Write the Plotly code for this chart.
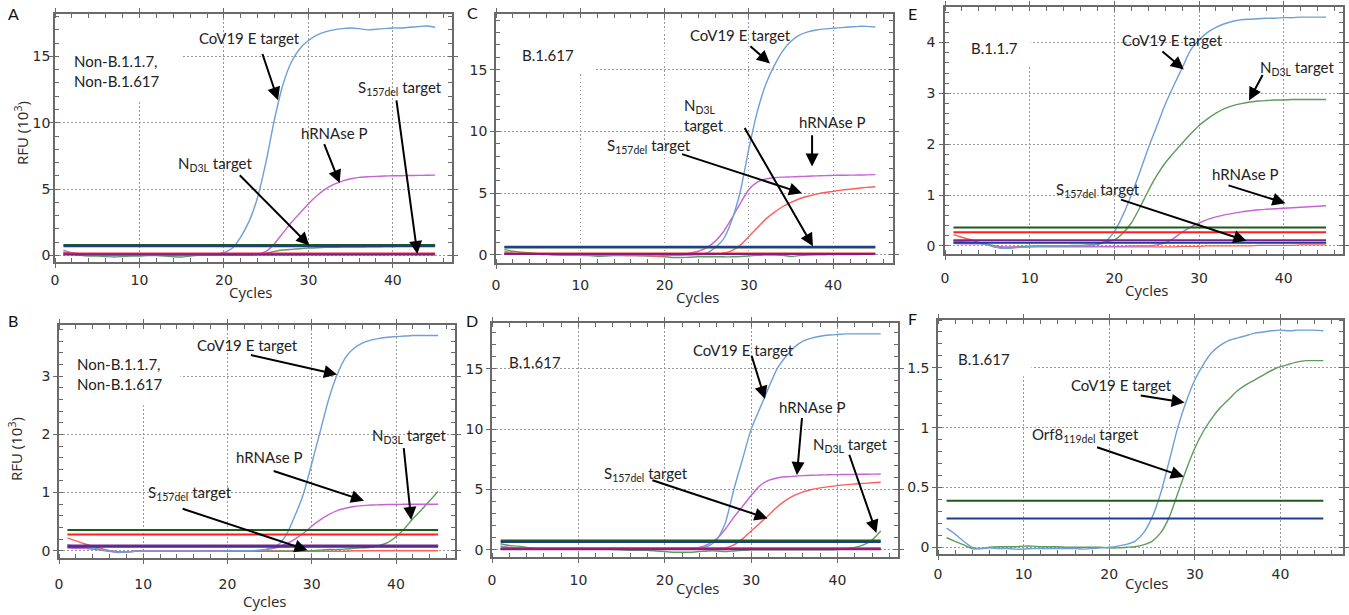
import plotly.graph_objects as go

W, H = 1349, 615
cycles = list(range(1, 46))

# ---------------- Panel A (Non-B.1.1.7, Non-B.1.617) ----------------
A_cov = [0.4, 0.2, 0.1, 0.05, 0.02, 0.0, -0.02, 0.0, 0.02, 0.02,
         0.0, 0.0, 0.02, 0.03, 0.02, 0.03, 0.05, 0.05, 0.08, 0.2,
         0.55, 1.4, 2.6, 4.4, 7.1, 10.3, 12.9, 14.6, 15.6, 16.2,
         16.6, 16.85, 17.0, 17.1, 17.15, 17.1, 17.0, 17.05, 17.1, 17.15,
         17.15, 17.2, 17.25, 17.3, 17.2]
A_hrp = [0.1, 0.06, 0.05, 0.04, 0.03, 0.02, 0.02, 0.03, 0.03, 0.03,
         0.03, 0.03, 0.03, 0.03, 0.03, 0.03, 0.03, 0.04, 0.04, 0.04,
         0.04, 0.05, 0.05, 0.08, 0.3, 0.9, 1.7, 2.5, 3.2, 3.9,
         4.5, 5.0, 5.35, 5.6, 5.78, 5.88, 5.93, 5.96, 5.98, 6.0,
         6.0, 6.02, 6.03, 6.04, 6.05]
A_nd3l = [0.2, 0.1, 0.0, -0.05, -0.05, -0.08, -0.12, -0.08, -0.05, -0.05,
          -0.02, -0.02, -0.05, -0.1, -0.12, -0.05, 0.0, 0.0, 0.02, 0.02,
          0.03, 0.03, 0.05, 0.08, 0.15, 0.3, 0.4, 0.45, 0.5, 0.55,
          0.58, 0.6, 0.6, 0.62, 0.62, 0.63, 0.64, 0.65, 0.66, 0.67,
          0.68, 0.69, 0.7, 0.7, 0.7]
A_s157 = [0.25, 0.18, 0.12, 0.08, 0.06, 0.05, 0.05, 0.05, 0.05, 0.05,
          0.05, 0.05, 0.05, 0.05, 0.05, 0.05, 0.05, 0.05, 0.05, 0.05,
          0.05, 0.05, 0.05, 0.05, 0.05, 0.05, 0.05, 0.05, 0.05, 0.06,
          0.06, 0.06, 0.06, 0.06, 0.07, 0.07, 0.07, 0.07, 0.07, 0.08,
          0.08, 0.08, 0.08, 0.08, 0.08]
A_thr = [0.78, 0.68, 0.15, 0.06]   # N, E, S, hRNAse P thresholds

# ---------------- Panel C (B.1.617) ----------------
C_cov = [0.3, 0.15, 0.08, 0.05, 0.05, 0.05, 0.05, 0.05, 0.05, 0.05,
         0.05, 0.04, 0.04, 0.04, 0.04, 0.04, 0.04, 0.04, 0.04, 0.04,
         0.04, 0.04, 0.05, 0.07, 0.15, 0.6, 1.3, 2.85, 5.2, 8.6,
         11.6, 13.8, 15.3, 16.5, 17.3, 17.8, 18.05, 18.2, 18.3, 18.35,
         18.4, 18.45, 18.5, 18.5, 18.45]
C_hrp = [0.15, 0.1, 0.08, 0.06, 0.05, 0.05, 0.05, 0.05, 0.05, 0.05,
         0.04, 0.04, 0.04, 0.04, 0.04, 0.04, 0.04, 0.04, 0.04, 0.04,
         0.05, 0.06, 0.15, 0.3, 0.6, 1.1, 1.9, 3.0, 4.2, 5.3,
         5.9, 6.15, 6.25, 6.3, 6.32, 6.35, 6.37, 6.4, 6.42, 6.44,
         6.45, 6.46, 6.47, 6.48, 6.5]
C_s157 = [0.15, 0.1, 0.08, 0.05, 0.05, 0.03, 0.0, -0.02, -0.02, -0.02,
          -0.03, -0.03, -0.03, -0.03, -0.03, -0.05, -0.05, -0.05, -0.08, -0.05,
          -0.03, -0.02, 0.0, 0.02, 0.03, 0.05, 0.15, 0.35, 0.8, 1.5,
          2.2, 2.9, 3.45, 3.9, 4.25, 4.55, 4.75, 4.92, 5.05, 5.15,
          5.25, 5.32, 5.4, 5.47, 5.52]
C_nd3l = [0.45, 0.3, 0.22, 0.18, 0.1, 0.05, 0.02, 0.0, -0.02, -0.03,
          -0.05, -0.1, -0.08, -0.05, -0.05, -0.05, -0.06, -0.08, -0.1, -0.15,
          -0.2, -0.2, -0.18, -0.15, -0.15, -0.15, -0.15, -0.15, -0.12, -0.08,
          -0.03, 0.0, 0.0, -0.02, -0.12, -0.05, 0.0, 0.02, 0.02, 0.03,
          0.03, 0.04, 0.04, 0.05, 0.05]
C_thr = [0.6, 0.66, 0.12, 0.08]

# ---------------- Panel E (B.1.1.7) ----------------
E_cov = [0.08, 0.07, 0.06, 0.05, 0.02, -0.03, -0.05, -0.04, -0.03, -0.02,
         -0.01, 0.0, 0.0, 0.0, 0.0, 0.0, 0.01, 0.04, 0.1, 0.28,
         0.6, 1.0, 1.45, 1.92, 2.35, 2.78, 3.15, 3.5, 3.85, 4.05,
         4.2, 4.3, 4.37, 4.42, 4.45, 4.46, 4.47, 4.48, 4.48, 4.49,
         4.49, 4.5, 4.5, 4.5, 4.5]
E_nd3l = [0.1, 0.08, 0.07, 0.06, 0.03, -0.02, -0.05, -0.04, -0.02, -0.01,
          0.0, 0.0, 0.0, 0.0, 0.01, 0.01, 0.02, 0.03, 0.08, 0.12,
          0.25, 0.45, 0.75, 1.08, 1.38, 1.63, 1.83, 2.02, 2.2, 2.37,
          2.5, 2.61, 2.7, 2.76, 2.8, 2.83, 2.85, 2.86, 2.87, 2.87,
          2.88, 2.88, 2.88, 2.88, 2.88]
E_hrp = [0.05, 0.04, 0.04, 0.04, 0.03, 0.0, -0.02, -0.02, -0.01, -0.01,
         -0.01, -0.01, -0.01, -0.01, -0.01, -0.01, -0.01, -0.01, -0.01, -0.01,
         -0.01, 0.0, 0.0, 0.0, 0.02, 0.06, 0.15, 0.27, 0.37, 0.45,
         0.52, 0.57, 0.61, 0.64, 0.67, 0.69, 0.71, 0.72, 0.73, 0.74,
         0.75, 0.76, 0.77, 0.78, 0.79]
E_s157 = [0.22, 0.17, 0.12, 0.07, 0.03, -0.02, -0.04, -0.03, -0.02, -0.02,
          -0.02, -0.02, -0.02, -0.02, -0.02, -0.02, -0.02, -0.02, -0.02, -0.02,
          -0.02, -0.02, -0.02, -0.02, -0.02, -0.02, -0.02, -0.01, -0.01, -0.01,
          0.0, 0.0, 0.0, 0.0, 0.0, 0.0, 0.01, 0.01, 0.01, 0.01,
          0.01, 0.02, 0.02, 0.02, 0.02]
E_thr = [0.36, 0.06, 0.27, 0.11]

# ---------------- Panel B (Non-B.1.1.7, Non-B.1.617) ----------------
B_cov = [0.1, 0.08, 0.06, 0.04, 0.02, -0.01, -0.03, -0.02, -0.01, -0.01,
         -0.01, -0.01, -0.01, -0.01, -0.01, -0.01, -0.01, -0.01, -0.01, 0.0,
         0.0, 0.0, 0.0, 0.01, 0.04, 0.1, 0.28, 0.6, 0.97, 1.5,
         2.05, 2.6, 3.02, 3.32, 3.48, 3.57, 3.62, 3.65, 3.67, 3.68,
         3.69, 3.7, 3.7, 3.7, 3.7]
B_hrp = [0.05, 0.04, 0.04, 0.04, 0.02, 0.0, -0.02, -0.02, -0.01, -0.01,
         -0.01, -0.01, -0.01, -0.01, -0.01, -0.01, -0.01, 0.0, 0.0, 0.0,
         0.0, 0.0, 0.0, 0.01, 0.03, 0.06, 0.12, 0.2, 0.3, 0.42,
         0.53, 0.62, 0.69, 0.73, 0.76, 0.775, 0.785, 0.79, 0.795, 0.795,
         0.8, 0.8, 0.8, 0.8, 0.8]
B_nd3l = [0.06, 0.05, 0.04, 0.03, 0.01, -0.01, -0.02, -0.02, -0.01, -0.01,
          -0.01, -0.01, -0.01, -0.01, -0.01, -0.01, -0.01, -0.01, -0.01, -0.01,
          -0.01, -0.01, -0.01, -0.01, -0.01, -0.01, -0.01, -0.01, -0.01, 0.0,
          0.01, 0.02, 0.02, 0.03, 0.04, 0.05, 0.06, 0.09, 0.14, 0.24,
          0.38, 0.55, 0.7, 0.86, 1.02]
B_s157 = [0.22, 0.17, 0.12, 0.08, 0.04, 0.0, -0.02, -0.02, -0.01, -0.01,
          -0.01, -0.01, -0.01, -0.01, -0.01, -0.01, -0.01, -0.01, -0.01, -0.01,
          -0.01, -0.01, -0.01, -0.01, -0.01, -0.01, -0.01, -0.01, -0.01, -0.01,
          -0.01, -0.01, -0.01, -0.01, 0.0, 0.0, 0.0, 0.0, 0.0, 0.0,
          0.0, 0.0, 0.0, 0.0, 0.0]
B_thr = [0.355, 0.07, 0.28, 0.09]

# ---------------- Panel D (B.1.617) ----------------
D_cov = [0.3, 0.15, 0.1, 0.06, 0.05, 0.05, 0.05, 0.05, 0.05, 0.05,
         0.05, 0.05, 0.05, 0.05, 0.05, 0.05, 0.05, 0.05, 0.05, 0.05,
         0.05, 0.05, 0.06, 0.1, 0.3, 0.8, 2.2, 5.0, 7.5, 10.0,
         11.7, 13.4, 15.0, 16.0, 16.8, 17.3, 17.55, 17.7, 17.8, 17.85,
         17.9, 17.9, 17.9, 17.9, 17.9]
D_hrp = [0.1, 0.1, 0.1, 0.1, 0.1, 0.1, 0.1, 0.1, 0.1, 0.1,
         0.1, 0.1, 0.1, 0.1, 0.1, 0.1, 0.1, 0.1, 0.1, 0.1,
         0.1, 0.1, 0.12, 0.2, 0.45, 0.9, 1.7, 2.7, 3.6, 4.5,
         5.3, 5.75, 5.95, 6.05, 6.1, 6.15, 6.18, 6.2, 6.22, 6.23,
         6.24, 6.25, 6.26, 6.27, 6.28]
D_s157 = [0.3, 0.2, 0.15, 0.1, 0.1, 0.1, 0.1, 0.1, 0.1, 0.1,
          0.1, 0.1, 0.1, 0.1, 0.1, 0.1, 0.1, 0.1, 0.1, 0.1,
          0.1, 0.1, 0.1, 0.1, 0.1, 0.1, 0.15, 0.4, 0.9, 1.55,
          2.2, 2.85, 3.55, 4.1, 4.5, 4.8, 5.0, 5.13, 5.23, 5.32,
          5.4, 5.45, 5.5, 5.55, 5.6]
D_nd3l = [0.5, 0.35, 0.3, 0.2, 0.1, 0.05, 0.05, 0.05, 0.05, 0.05,
          0.05, 0.05, 0.05, 0.02, 0.0, -0.05, -0.05, -0.05, -0.1, -0.15,
          -0.2, -0.2, -0.2, -0.15, -0.1, -0.1, -0.15, -0.1, -0.05, 0.0,
          0.0, 0.0, 0.0, 0.0, 0.0, 0.0, 0.0, 0.0, 0.0, 0.02,
          0.1, 0.2, 0.4, 0.8, 1.55]
D_thr = [0.76, 0.65, 0.12, 0.05]

# ---------------- Panel F (B.1.617, Orf8) ----------------
F_cov = [0.16, 0.11, 0.05, 0.0, -0.01, -0.005, -0.01, -0.01, -0.015, -0.015,
         -0.01, -0.01, -0.01, -0.01, -0.01, -0.01, -0.015, -0.01, -0.005, 0.0,
         0.01, 0.025, 0.05, 0.12, 0.25, 0.45, 0.72, 1.0, 1.22, 1.4,
         1.53, 1.63, 1.69, 1.73, 1.75, 1.77, 1.79, 1.8, 1.81, 1.815,
         1.81, 1.815, 1.815, 1.815, 1.81]
F_orf8 = [0.08, 0.05, 0.02, -0.01, -0.01, 0.0, 0.005, 0.005, 0.005, 0.01,
          0.01, 0.005, 0.005, 0.005, 0.0, 0.0, 0.0, 0.0, 0.0, -0.005,
          -0.005, 0.0, 0.005, 0.02, 0.05, 0.12, 0.25, 0.45, 0.65, 0.83,
          0.97, 1.08, 1.17, 1.24, 1.31, 1.36, 1.4, 1.44, 1.48, 1.51,
          1.53, 1.55, 1.56, 1.56, 1.56]
F_thr = [0.39, 0.24]

# ---------------- styles ----------------
CUR = dict(cov="#6e9fd6", hrp="#c465d3", s157="#ff5c5c", nd3l="#5e9b5e", orf8="#5e9b5e")
THR = ["#1d5a1d", "#1f3d93", "#ff1f1f", "#7a2090"]
THR_F = ["#1d5a1d", "#1f3d93"]
FONT_LBL = "Lato"
FONT_TICK = "DejaVu Sans"
FONT_TITLE = "Open Sans"

ND3L = "N<sub>D3L</sub> target"
S157 = "S<sub>157del</sub> target"

# page-pixel geometry of each panel (x0,x1), (ytop,ybottom)
panels = [
    dict(letter="A", px=(55, 452), py=(14, 262), xr=[0, 47.0], yr=[-0.5, 18.2], dt=5, mdt=1,
         curves=[("nd3l", A_nd3l), ("s157", A_s157), ("hrp", A_hrp), ("cov", A_cov)], thr=A_thr, thrc=THR,
         sample=("Non-B.1.1.7,<br>Non-B.1.617", 2.1, 13.9),
         labels=[("CoV19 E target", 23.0, 16.4, (24.5, 15.3), (26.4, 11.7)),
                 (S157, 40.8, 12.6, (40.4, 11.8), (42.9, 0.1)),
                 ("hRNAse P", 33.1, 9.25, (31.8, 8.5), (33.7, 5.45)),
                 (ND3L, 18.9, 6.9, (21.7, 6.15), (30.1, 0.75))],
         mask=(15.0, 11.7), cyc=(251, 292), letterpos=(13, 14), rfu=(21, 133), stand=0, ystand=-4),
    dict(letter="C", px=(496, 893), py=(14, 263), xr=[0, 47.1], yr=[-0.65, 19.5], dt=5, mdt=1,
         curves=[("nd3l", C_nd3l), ("s157", C_s157), ("hrp", C_hrp), ("cov", C_cov)], thr=C_thr, thrc=THR,
         sample=("B.1.617", 3.0, 16.2),
         labels=[("CoV19 E target", 29.0, 17.8, (30.0, 17.0), (32.5, 15.5)),
                 ("N<sub>D3L</sub><br>target", 24.7, 11.3, (29.4, 10.4), (37.6, 0.7)),
                 ("hRNAse P", 39.9, 10.8, (37.5, 9.8), (37.5, 7.15)),
                 (S157, 18.1, 8.8, (21.9, 8.2), (36.3, 5.0))],
         mask=(11.7, 14.8), cyc=(698, 297), letterpos=(472, 13), rfu=None, stand=4, ystand=0),
    dict(letter="E", px=(945, 1343), py=(7, 254), xr=[0, 47.0], yr=[-0.16, 4.7], dt=1, mdt=0.2,
         curves=[("s157", E_s157), ("hrp", E_hrp), ("nd3l", E_nd3l), ("cov", E_cov)], thr=E_thr, thrc=THR,
         sample=("B.1.1.7", 3.0, 3.9),
         labels=[("CoV19 E target", 26.9, 4.05, (25.5, 3.85), (28.2, 3.47)),
                 (ND3L, 41.6, 3.5, (37.6, 3.39), (35.9, 2.86)),
                 ("hRNAse P", 35.5, 1.41, (33.3, 1.2), (40.2, 0.84)),
                 (S157, 18.1, 1.09, (20.6, 0.92), (35.6, 0.1))],
         mask=(10.1, 3.56), cyc=(1147, 290), letterpos=(912, 14), rfu=None, stand=6, ystand=1),
    dict(letter="B", px=(59, 455), py=(325, 558), xr=[0, 47.0], yr=[-0.125, 3.88], dt=1, mdt=0.2,
         curves=[("s157", B_s157), ("nd3l", B_nd3l), ("hrp", B_hrp), ("cov", B_cov)], thr=B_thr, thrc=THR,
         sample=("Non-B.1.1.7,<br>Non-B.1.617", 2.05, 3.03),
         labels=[("CoV19 E target", 22.4, 3.53, (22.6, 3.37), (33.0, 3.03)),
                 (ND3L, 41.5, 1.97, (40.9, 1.79), (41.8, 0.53)),
                 ("hRNAse P", 25.0, 1.61, (25.3, 1.38), (36.2, 0.86)),
                 (S157, 15.6, 1.0, (14.5, 0.73), (29.5, 0.01))],
         mask=(14.4, 2.5), cyc=(265, 601), letterpos=(13, 320), rfu=(15, 449), stand=8, ystand=0),
    dict(letter="D", px=(492, 898), py=(323, 557), xr=[0, 47.0], yr=[-0.6, 18.8], dt=5, mdt=1,
         curves=[("nd3l", D_nd3l), ("s157", D_s157), ("hrp", D_hrp), ("cov", D_cov)], thr=D_thr, thrc=THR,
         sample=("B.1.617", 1.9, 15.6),
         labels=[("CoV19 E target", 29.1, 16.6, (30.0, 16.2), (31.6, 12.5)),
                 ("hRNAse P", 37.1, 11.8, (35.9, 11.05), (35.3, 6.2)),
                 (ND3L, 41.5, 8.7, (41.3, 8.0), (44.5, 1.4)),
                 (S157, 17.8, 6.25, (18.4, 5.8), (31.9, 2.6))],
         mask=None, cyc=(698, 588), letterpos=(472, 320), rfu=None, stand=5, ystand=0),
    dict(letter="F", px=(938, 1343), py=(320, 554), xr=[0, 47.3], yr=[-0.056, 1.9], dt=0.5, mdt=0.1,
         curves=[("orf8", F_orf8), ("cov", F_cov)], thr=F_thr, thrc=THR_F,
         sample=("B.1.617", 2.2, 1.57),
         labels=[("CoV19 E target", 21.4, 1.36, (23.5, 1.27), (28.8, 1.21)),
                 ("Orf8<sub>119del</sub> target", 17.2, 0.94, (18.4, 0.84), (28.7, 0.59))],
         mask=(10.9, 1.43), cyc=(1147, 583), letterpos=(912, 318), rfu=None, stand=2, ystand=0),
]


def fx(px):
    return px / W


def fy(py):
    return 1 - py / H


fig = go.Figure()
annotations = []
shapes = []
AXC = "#6a6a6a"

for i, p in enumerate(panels, start=1):
    sfx = "" if i == 1 else str(i)
    xa, ya = "x" + sfx, "y" + sfx
    for key, vals in p["curves"]:
        fig.add_trace(go.Scatter(x=cycles, y=vals, mode="lines", xaxis=xa, yaxis=ya,
                                 line=dict(color=CUR[key], width=1.4, shape="spline", smoothing=0.6),
                                 showlegend=False, hoverinfo="skip"))
    for val, col in zip(p["thr"], p["thrc"]):
        fig.add_trace(go.Scatter(x=[cycles[0], cycles[-1]], y=[val, val], mode="lines",
                                 xaxis=xa, yaxis=ya, line=dict(color=col, width=2),
                                 showlegend=False, hoverinfo="skip"))
    x0, x1 = p["px"]
    y0, y1 = p["py"]
    common = dict(showline=True, linecolor=AXC, linewidth=1.5, mirror="ticks", automargin=False,
                  ticks="outside", ticklen=4, tickcolor=AXC, tickwidth=1,
                  showgrid=True, gridcolor="#9a9a9a", griddash="1.5px,2.5px", gridwidth=1,
                  zeroline=False, tickfont=dict(family=FONT_TICK, size=14, color="#2a2a2a"))
    fig.update_layout(**{
        ("xaxis" + sfx): dict(domain=[fx(x0), fx(x1)], range=p["xr"], anchor=ya,
                              tick0=0, dtick=10, ticklabelstandoff=p["stand"],
                              minor=dict(dtick=2, ticks="inside", ticklen=4, tickcolor=AXC, showgrid=False),
                              **common),
        ("yaxis" + sfx): dict(domain=[fy(y1), fy(y0)], range=p["yr"], anchor=xa,
                              tick0=0, dtick=p["dt"], ticklabelstandoff=p["ystand"],
                              minor=dict(dtick=p["mdt"], ticks="inside", ticklen=4, tickcolor=AXC, showgrid=False),
                              **common),
    })
    if p["mask"]:
        mx, my = p["mask"]
        shapes.append(dict(type="rect", xref=xa, yref=ya, x0=0.05, x1=mx, y0=my, y1=p["yr"][1],
                           fillcolor="white", line=dict(width=0), layer="between"))
    st, sx, sy = p["sample"]
    annotations.append(dict(text=st, x=sx, y=sy, xref=xa, yref=ya, showarrow=False,
                            xanchor="left", yanchor="middle", align="left", borderpad=0,
                            font=dict(family=FONT_LBL, size=15, color="#222")))
    for txt, tx, ty, tail, head in p["labels"]:
        annotations.append(dict(text=txt, x=tx, y=ty, xref=xa, yref=ya, showarrow=False,
                                xanchor="center", yanchor="middle", align="left",
                                font=dict(family=FONT_LBL, size=15, color="#222")))
        annotations.append(dict(text="", x=head[0], y=head[1], xref=xa, yref=ya,
                                ax=tail[0], ay=tail[1], axref=xa, ayref=ya,
                                showarrow=True, arrowhead=2, arrowsize=1.3, arrowwidth=2,
                                arrowcolor="black", standoff=0, startstandoff=0))
    cx, cy = p["cyc"]
    annotations.append(dict(text="Cycles", x=fx(cx), y=fy(cy), xref="paper", yref="paper",
                            showarrow=False, xanchor="center", yanchor="middle",
                            font=dict(family=FONT_TITLE, size=15, color="#2a2a2a")))
    lx, ly = p["letterpos"]
    annotations.append(dict(text=p["letter"], x=fx(lx), y=fy(ly), xref="paper", yref="paper",
                            showarrow=False, xanchor="center", yanchor="middle", borderpad=0,
                            font=dict(family=FONT_LBL, size=16, color="#111")))
    if p["rfu"]:
        rx, ry = p["rfu"]
        annotations.append(dict(text="RFU (10<sup>3</sup>)", x=fx(rx), y=fy(ry),
                                xref="paper", yref="paper", showarrow=False, textangle=-90,
                                xanchor="center", yanchor="middle",
                                font=dict(family=FONT_TITLE, size=15, color="#2a2a2a")))

fig.update_layout(width=W, height=H, margin=dict(l=0, r=0, t=0, b=0),
                  paper_bgcolor="white", plot_bgcolor="white",
                  annotations=annotations, shapes=shapes, showlegend=False)

# remove the default 8px page margin so the figure fills the window exactly; no mode bar
fig.write_html("out.html", config={"displayModeBar": False},
               post_script="document.body.style.margin='0px';")
